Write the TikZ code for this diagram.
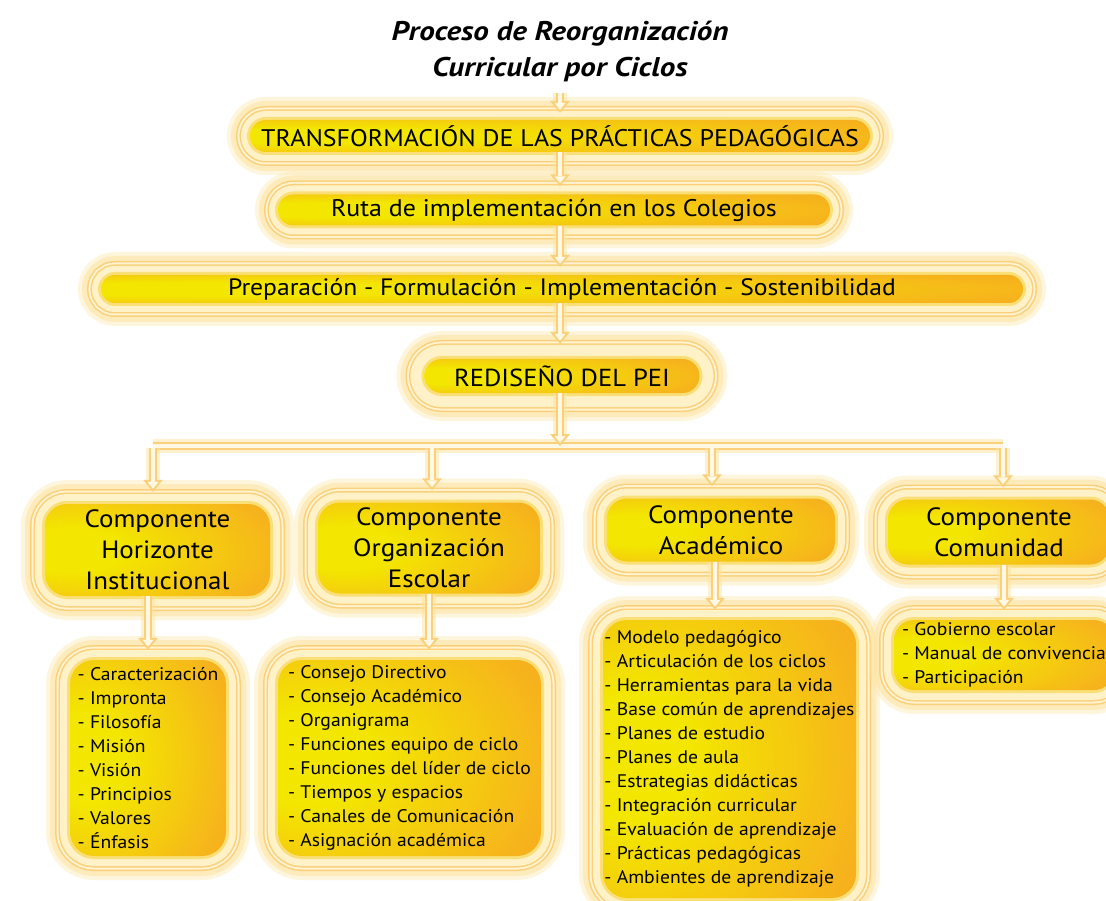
\documentclass[tikz,border=0pt]{standalone}
\usepackage{fontspec}
\setmainfont[FakeStretch=1.08]{PT Sans}
\newfontfamily\titlefont[FakeStretch=1.15]{PT Sans}
\usetikzlibrary{arrows.meta}
\definecolor{gY}{HTML}{F3E600}
\definecolor{gO}{HTML}{F6B41C}
\definecolor{gO2}{HTML}{F4A11F}
\definecolor{ringc}{HTML}{FAD07A}
\definecolor{ringhi}{HTML}{FFF3D2}
\definecolor{glowc}{HTML}{FDE4A0}
\definecolor{palec}{HTML}{FFF2C8}
\definecolor{edgec}{HTML}{FADF78}
\definecolor{connin}{HTML}{FFF8E4}
\pgfdeclareradialshading{boxglow}{\pgfpoint{-22bp}{0bp}}{color(0bp)=(gY); color(12bp)=(gY); color(40bp)=(gO); color(55bp)=(gO2); color(100bp)=(gO2)}
\tikzset{
  gbox/.style={shade, shading=boxglow, inner sep=0pt, align=center, text=black,
    preaction={draw=glowc, opacity=.35, line width={2*#1+28pt}},
    preaction={draw=glowc, opacity=.55, line width={2*#1+20pt}},
    preaction={draw=ringc, line width={2*#1+10pt}},
    preaction={draw=ringhi, line width={2*#1+7pt}},
    preaction={draw=ringc, line width={2*#1+3pt}},
    preaction={draw=palec, line width={2*#1}},
    preaction={draw=edgec, line width=6pt}},
  gbox/.default=9pt,
  conn/.style={draw=ringc, line width=8pt, -{Triangle[width=20pt,length=12pt,line width=0pt]}, shorten >=#1,
    preaction={draw=glowc, opacity=.5, line width=14pt, -, shorten >={#1+8pt}},
    postaction={draw=connin, line width=4pt, -{Triangle[width=11pt,length=7pt,line width=0pt]}, shorten >={#1+3pt}}},
  conn/.default=8pt,
  bar/.style={draw=ringc, line width=2pt, double=connin, double distance=4pt, line cap=square,
    preaction={draw=glowc, opacity=.5, line width=14pt, line cap=square}},
  topfont/.style={font=\fontsize{24}{28}\selectfont},
  compfont/.style={font=\fontsize{25}{31}\selectfont},
  listfont/.style={font=\fontsize{18.2}{24}\selectfont}
}
\begin{document}
\begin{tikzpicture}[x=1pt,y=-1pt]
\useasboundingbox[fill=white] (0,0) rectangle (1106,901);

\node[font=\titlefont\bfseries\itshape\fontsize{27}{36}\selectfont, align=center] (title) at (560,51) {Proceso de Reorganización\\Curricular por Ciclos};

\node[gbox, topfont, minimum width=620pt, minimum height=32pt, rounded corners=16pt] (b1) at (560,136) {TRANSFORMACIÓN DE LAS PRÁCTICAS PEDAGÓGICAS};
\node[gbox, topfont, minimum width=552pt, minimum height=31pt, rounded corners=15.5pt] (b2) at (554,210) {Ruta de implementación en los Colegios};
\node[gbox, font=\fontsize{23.7}{28}\selectfont, minimum width=922pt, minimum height=28pt, rounded corners=14pt] (b3) at (562,289) {Preparación - Formulación - Implementación - Sostenibilidad};
\node[gbox=14pt, font=\fontsize{24.6}{30}\selectfont, minimum width=275pt, minimum height=34pt, rounded corners=17pt] (b4) at (562,376) {REDISEÑO DEL PEI};

\node[gbox=10pt, compfont, minimum width=225pt, minimum height=92pt, rounded corners=22pt] (c1) at (157.5,550) {Componente\\Horizonte\\Institucional};
\node[gbox=10pt, compfont, minimum width=222pt, minimum height=91pt, rounded corners=22pt] (c2) at (429,548) {Componente\\Organización\\Escolar};
\node[gbox=10pt, compfont, minimum width=228pt, minimum height=63pt, rounded corners=20pt] (c3) at (721,530) {Componente\\Académico};
\node[gbox=10pt, compfont, minimum width=222pt, minimum height=65pt, rounded corners=20pt] (c4) at (999,532) {Componente\\Comunidad};

\node[gbox=10pt, listfont, align=left, minimum width=156pt, minimum height=196pt, rounded corners=24pt] (l1) at (148,758) {- Caracterización\\- Impronta\\- Filosofía\\- Misión\\- Visión\\- Principios\\- Valores\\- Énfasis};
\node[gbox=10pt, listfont, align=left, minimum width=263pt, minimum height=196pt, rounded corners=24pt] (l2) at (409.5,758) {- Consejo Directivo\\- Consejo Académico\\- Organigrama\\- Funciones equipo de ciclo\\- Funciones del líder de ciclo\\- Tiempos y espacios\\- Canales de Comunicación\\- Asignación académica};
\node[gbox=10pt, listfont, align=left, minimum width=253pt, minimum height=278pt, rounded corners=24pt] (l3) at (729.5,759) {- Modelo pedagógico\\- Articulación de los ciclos\\- Herramientas para la vida\\- Base común de aprendizajes\\- Planes de estudio\\- Planes de aula\\- Estrategias didácticas\\- Integración curricular\\- Evaluación de aprendizaje\\- Prácticas pedagógicas\\- Ambientes de aprendizaje};
\node[gbox=10pt, listfont, align=left, minimum width=220pt, minimum height=70pt, rounded corners=20pt] (l4) at (1004,655) {- Gobierno escolar\\- Manual de convivencia\\- Participación};

\coordinate (j1) at (153,446);
\coordinate (j2) at (432,446);
\coordinate (j3) at (712,446);
\coordinate (j4) at (1003,446);

\draw[conn=7pt, shorten <=8pt] (title.south) -- (title.south |- b1.north);
\draw[conn] (b1.south) -- (b1.south |- b2.north);
\draw[conn] (b1.south |- b2.south) -- (b1.south |- b3.north);
\draw[conn=15pt] (b1.south |- b3.south) -- (b1.south |- b4.north);
\draw[bar] (j1) -- (j4);
\draw[conn=0pt] (b1.south |- b4.south) -- (b1.south |- j1);
\draw[conn=12pt] ([yshift=-2pt]j1) -- (j1 |- c1.north);
\draw[conn=12pt] ([yshift=-2pt]j2) -- (j2 |- c2.north);
\draw[conn=12pt] ([yshift=-2pt]j3) -- (j3 |- c3.north);
\draw[conn=12pt] ([yshift=-2pt]j4) -- (j4 |- c4.north);
\draw[conn=10pt] (l1.north |- c1.south) -- (l1.north);
\draw[conn=10pt] (c2.south) -- (c2.south |- l2.north);
\draw[conn=10pt] ([xshift=-6pt]c3.south) -- ([xshift=-6pt]c3.south |- l3.north);
\draw[conn=10pt] (l4.north |- c4.south) -- (l4.north);
\end{tikzpicture}
\end{document}
